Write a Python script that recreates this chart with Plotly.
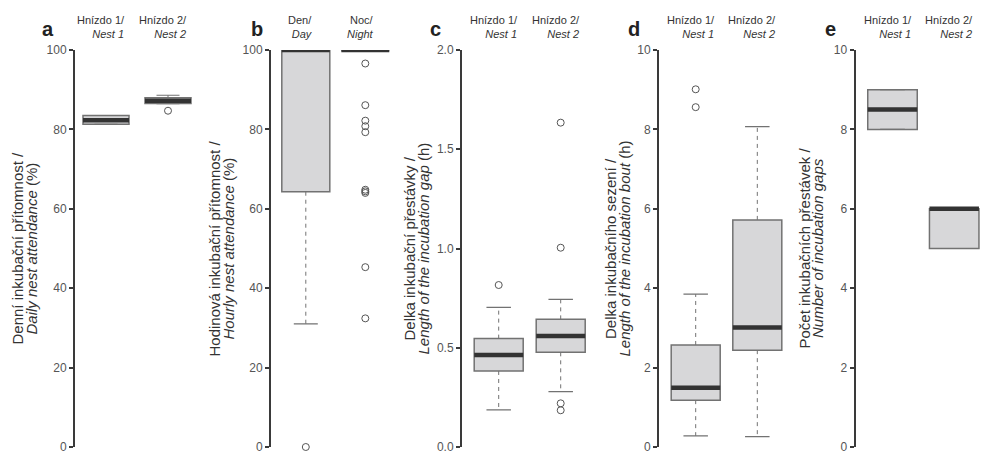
import plotly.graph_objects as go

W, H = 981, 451

# ---------------- data ----------------
nest_labels = ["Hnízdo 1/<br><i>Nest 1</i>", "Hnízdo 2/<br><i>Nest 2</i>"]
daynight_labels = ["Den/<br><i>Day</i>", "Noc/<br><i>Night</i>"]

# a: daily nest attendance (%)
a_q1 = [81.3, 86.5]
a_med = [82.3, 87.2]
a_q3 = [83.5, 88.0]
a_lo = [81.3, 86.5]
a_hi = [83.5, 88.6]
a_out = [[], [84.7]]

# b: hourly nest attendance (%)
b_q1 = [64.3, 100.0]
b_med = [100.0, 100.0]
b_q3 = [100.0, 100.0]
b_lo = [31.0, 100.0]
b_hi = [100.0, 100.0]
b_out = [[0.0], [96.6, 86.1, 82.2, 80.8, 79.3, 64.8, 64.4, 64.0, 45.3, 32.4]]

# c: length of the incubation gap (h)
c_q1 = [0.383, 0.477]
c_med = [0.464, 0.559]
c_q3 = [0.546, 0.643]
c_lo = [0.187, 0.279]
c_hi = [0.703, 0.744]
c_out = [[0.816], [1.634, 1.004, 0.22, 0.185]]

# d: length of the incubation bout (h)
d_q1 = [1.18, 2.44]
d_med = [1.49, 3.01]
d_q3 = [2.57, 5.72]
d_lo = [0.28, 0.26]
d_hi = [3.85, 8.07]
d_out = [[9.01, 8.56], []]

# e: number of incubation gaps
e_q1 = [8.0, 5.0]
e_med = [8.5, 6.0]
e_q3 = [9.0, 6.0]
e_lo = [8.0, 5.0]
e_hi = [9.0, 6.0]
e_out = [[], []]

a_title = ["Denní inkubační přítomnost /", "<i>Daily nest attendance</i> (%)"]
b_title = ["Hodinová inkubační přítomnost /", "<i>Hourly nest attendance</i> (%)"]
c_title = ["Delka inkubační přestávky /", "<i>Length of the incubation gap</i> (h)"]
d_title = ["Delka inkubačního sezení /", "<i>Length of the incubation bout</i> (h)"]
e_title = ["Počet inkubačních přestávek /", "<i>Number of incubation gaps</i>"]

panels = [
    dict(letter="a", cats=nest_labels, q1=a_q1, med=a_med, q3=a_q3, lo=a_lo, hi=a_hi, out=a_out,
         title=a_title, yrange=[0, 100], dtick=20, fmt="d",
         axis=75, c1=106, c2=168, end=200, box=46, t1=17, t2=31, lx=48),
    dict(letter="b", cats=daynight_labels, q1=b_q1, med=b_med, q3=b_q3, lo=b_lo, hi=b_hi, out=b_out,
         title=b_title, yrange=[0, 100], dtick=20, fmt="d",
         axis=271, c1=305.8, c2=365.3, end=392, box=48, t1=214, t2=228, lx=257),
    dict(letter="c", cats=nest_labels, q1=c_q1, med=c_med, q3=c_q3, lo=c_lo, hi=c_hi, out=c_out,
         title=c_title, yrange=[0, 2], dtick=0.5, fmt=".1f",
         axis=462, c1=498.7, c2=560.7, end=590, box=49, t1=409, t2=423, lx=435),
    dict(letter="d", cats=nest_labels, q1=d_q1, med=d_med, q3=d_q3, lo=d_lo, hi=d_hi, out=d_out,
         title=d_title, yrange=[0, 10], dtick=2, fmt="d",
         axis=659, c1=695.7, c2=757.3, end=787, box=49, t1=610.5, t2=624, lx=634),
    dict(letter="e", cats=nest_labels, q1=e_q1, med=e_med, q3=e_q3, lo=e_lo, hi=e_hi, out=e_out,
         title=e_title, yrange=[0, 10], dtick=2, fmt="d",
         axis=855.5, c1=892.5, c2=954.2, end=981, box=49.5, t1=804, t2=817.5, lx=830),
]

FONT = "Liberation Sans, Arial, sans-serif"
FILL = "#d7d7d9"
EDGE = "#727272"
MED = "#333333"
AXC = "#3a3a3a"

PLOT_TOP, PLOT_BOT = 50, 447
ydom = [1 - PLOT_BOT / H, 1 - PLOT_TOP / H]

fig = go.Figure()
annotations = []

for k, p in enumerate(panels):
    n = "" if k == 0 else str(k + 1)
    xa, ya = "x" + n, "y" + n
    span = p["c2"] - p["c1"]
    bw = p["box"] / span
    xs = [0, 1]

    # box body
    fig.add_trace(go.Box(
        x=xs, q1=p["q1"], median=p["med"], q3=p["q3"],
        lowerfence=p["q1"], upperfence=p["q3"],
        width=bw, fillcolor=FILL, line=dict(color=EDGE, width=1.5),
        xaxis=xa, yaxis=ya, showlegend=False, hoverinfo="skip"))

    # whisker caps (upper and lower)
    for fence in (p["hi"], p["lo"]):
        fig.add_trace(go.Box(
            x=xs, q1=fence, median=fence, q3=fence,
            lowerfence=fence, upperfence=fence,
            width=bw * 0.5, fillcolor="rgba(0,0,0,0)", line=dict(color=EDGE, width=1.2),
            xaxis=xa, yaxis=ya, showlegend=False, hoverinfo="skip"))

    # median
    fig.add_trace(go.Box(
        x=xs, q1=p["med"], median=p["med"], q3=p["med"],
        lowerfence=p["med"], upperfence=p["med"],
        width=bw, fillcolor="rgba(0,0,0,0)", line=dict(color=MED, width=4.5),
        xaxis=xa, yaxis=ya, showlegend=False, hoverinfo="skip"))

    # dashed whiskers
    wx, wy = [], []
    for i in xs:
        wx += [i, i, None, i, i, None]
        wy += [p["q3"][i], p["hi"][i], None, p["q1"][i], p["lo"][i], None]
    fig.add_trace(go.Scatter(
        x=wx, y=wy, mode="lines", line=dict(color=EDGE, width=1, dash="4px,4px"),
        xaxis=xa, yaxis=ya, showlegend=False, hoverinfo="skip"))

    # outliers
    ox, oy = [], []
    for i in xs:
        ox += [i] * len(p["out"][i])
        oy += p["out"][i]
    fig.add_trace(go.Scatter(
        x=ox, y=oy, mode="markers",
        marker=dict(symbol="circle-open", size=7, color="#555555", line=dict(width=1)),
        xaxis=xa, yaxis=ya, showlegend=False, hoverinfo="skip", cliponaxis=False))

    xr = [(p["axis"] - p["c1"]) / span, (p["end"] - p["c1"]) / span]
    fig.update_layout(**{
        "xaxis" + n: dict(domain=[p["axis"] / W, p["end"] / W], range=xr, visible=False,
                          anchor=ya, fixedrange=True, automargin=False),
        "yaxis" + n: dict(domain=ydom, range=p["yrange"], anchor=xa, dtick=p["dtick"], tick0=0,
                          tickformat=p["fmt"], showgrid=False, zeroline=False,
                          showline=True, linecolor=AXC, linewidth=2,
                          ticks="outside", ticklen=4, tickwidth=1.5, tickcolor=AXC,
                          tickfont=dict(family=FONT, size=12, color="#555555"),
                          ticklabeloverflow="allow", automargin=False,
                          fixedrange=True),
    })

    # category labels above the plot
    for i, lab in enumerate(p["cats"]):
        annotations.append(dict(
            text=lab, x=i, xref=xa, y=1 - 27 / H, yref="paper",
            xanchor="center", yanchor="middle", align="right", xshift=-5,
            showarrow=False, font=dict(family=FONT, size=11, color="#333333")))

    # panel letter
    annotations.append(dict(
        text="<b>%s</b>" % p["letter"], x=p["lx"] / W, xref="paper", y=1 - 29 / H, yref="paper",
        xanchor="center", yanchor="middle", showarrow=False,
        font=dict(family=FONT, size=20, color="#222222")))

    # y-axis title (two lines)
    for line, px in zip(p["title"], (p["t1"], p["t2"])):
        annotations.append(dict(
            text=line, x=px / W, xref="paper", y=1 - (PLOT_TOP + PLOT_BOT) / 2 / H, yref="paper",
            xanchor="center", yanchor="middle", textangle=-90, showarrow=False,
            font=dict(family=FONT, size=15, color="#333333")))

fig.update_layout(
    width=W, height=H,
    margin=dict(l=0, r=0, t=0, b=0, autoexpand=False),
    paper_bgcolor="white", plot_bgcolor="white",
    showlegend=False,
    annotations=annotations,
    font=dict(family=FONT),
)

post = ("document.body.style.margin='0';"
        "var d=document.getElementById('{plot_id}');"
        "d.style.position='absolute';d.style.left='0px';d.style.top='0px';")
fig.write_html("out.html", post_script=post, config={"displayModeBar": False})
